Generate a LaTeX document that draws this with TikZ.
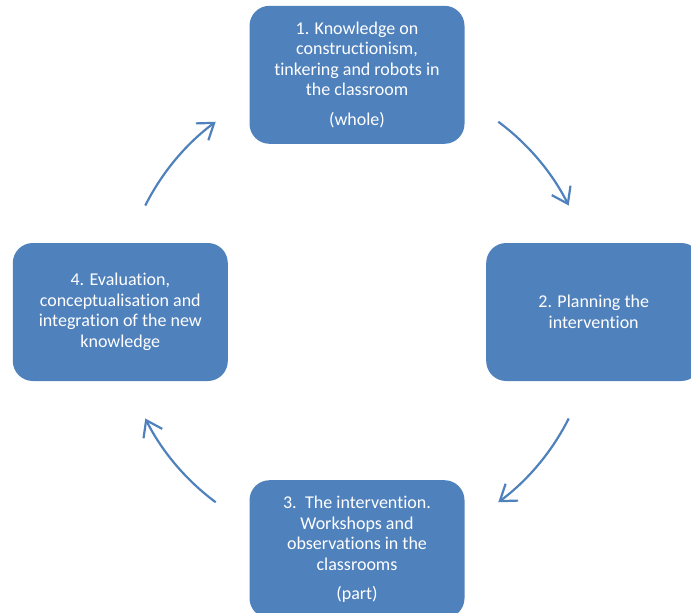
\documentclass[tikz,border=0pt]{standalone}
\usepackage{fontspec}
\setmainfont{Carlito}[Ligatures=NoCommon]
\usetikzlibrary{arrows.meta,positioning}
\definecolor{phaseblue}{RGB}{79,129,189}

\begin{document}
\begin{tikzpicture}[
    x=1pt, y=-1pt,
    node distance=168pt and 129pt,
    phasebox/.style={fill=phaseblue, rounded corners=20pt, text=white, align=center,
        minimum width=215pt, minimum height=138pt, inner sep=0pt,
        font=\fontsize{18}{20.5}\selectfont},
    cyclearrow/.style={-{Straight Barb[length=15pt, width=21pt]}, draw=phaseblue, line width=2.2pt}
]
\clip (0,0) rectangle (691,613);
\coordinate (c) at (357,312);
\node[phasebox, above=of c] (know) {1. Knowledge on\\ constructionism,\\ tinkering and robots in\\ the classroom\\[9pt] (whole)};
\node[phasebox, right=of c] (plan) {2. Planning the\\ intervention};
\node[phasebox, below=of c] (interv) {3.\, The intervention.\\ Workshops and\\ observations in the\\ classrooms\\[9pt] (part)};
\node[phasebox, left=of c] (eval) {4. Evaluation,\\ conceptualisation and\\ integration of the new\\ knowledge};
\draw[cyclearrow] ([shift={(53.4:237pt)}]c) arc[start angle=53.4, end angle=26.7, radius=237pt];
\draw[cyclearrow] ([shift={(-26.7:237pt)}]c) arc[start angle=-26.7, end angle=-53.4, radius=237pt];
\draw[cyclearrow] ([shift={(-126.6:237pt)}]c) arc[start angle=-126.6, end angle=-153.3, radius=237pt];
\draw[cyclearrow] ([shift={(153.3:237pt)}]c) arc[start angle=153.3, end angle=126.6, radius=237pt];
\end{tikzpicture}
\end{document}
